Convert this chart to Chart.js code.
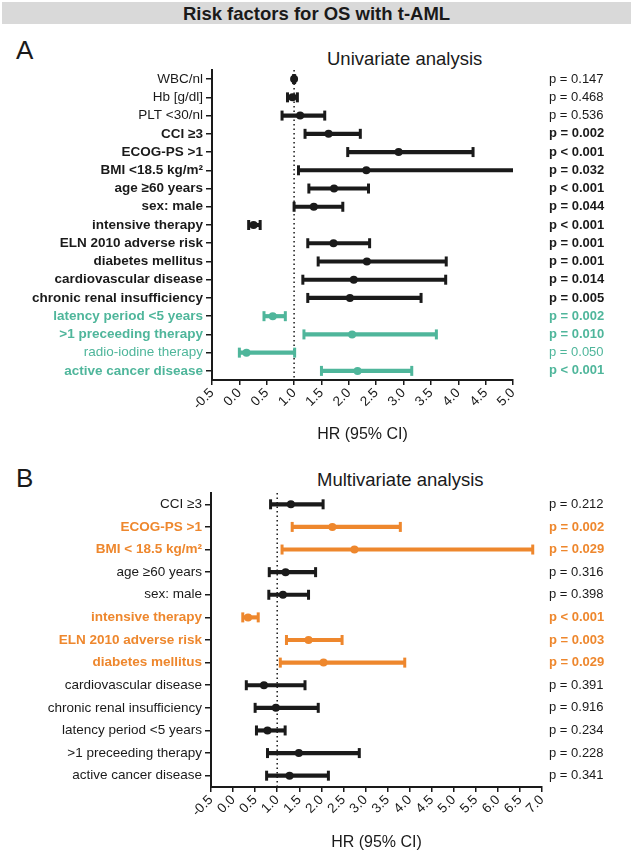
<!DOCTYPE html>
<html lang="en">
<head>
<meta charset="UTF-8">
<title>Risk factors for OS with t-AML</title>
<script src="https://cdn.jsdelivr.net/npm/chart.js"></script>
<style>
    body {
        margin: 0;
        width: 633px;
        height: 854px;
        position: relative;
        overflow: hidden;
        background: #fff;
        color: #1a1a1a;
        font-family: "Liberation Sans", Arial, sans-serif;
    }
    .banner {
        position: absolute;
        left: 2px; top: 2px;
        width: 629px; height: 22px;
        background: #d9d9d9;
        font-weight: bold;
        font-size: 18.5px;
        line-height: 24px;
        text-align: center;
    }
    .letter { position: absolute; left: 16px; font-size: 26px; line-height: 26px; }
    .subtitle { position: absolute; font-size: 18.5px; line-height: 18.5px; white-space: nowrap; }
    .box { position: absolute; left: 0; width: 633px; }
</style>
</head>
<body>
    <div class="banner">Risk factors for OS with t-AML</div>

    <div class="letter" style="top:37px">A</div>
    <div class="subtitle" style="left:327px; top:50px">Univariate analysis</div>
    <div class="box" style="top:62px; height:388px"><canvas id="uniChart"></canvas></div>

    <div class="letter" style="top:465px">B</div>
    <div class="subtitle" style="left:317px; top:471px">Multivariate analysis</div>
    <div class="box" style="top:485px; height:369px"><canvas id="multiChart"></canvas></div>

<script>
    // Univariate analysis
    const labelsA = ['WBC/nl', 'Hb [g/dl]', 'PLT <30/nl', 'CCI ≥3', 'ECOG-PS >1', 'BMI <18.5 kg/m²',
        'age ≥60 years', 'sex: male', 'intensive therapy', 'ELN 2010 adverse risk', 'diabetes mellitus',
        'cardiovascular disease', 'chronic renal insufficiency', 'latency period <5 years',
        '>1 preceeding therapy', 'radio-iodine therapy', 'active cancer disease'];
    const hrA    = [1.00, 0.97, 1.11, 1.63, 2.91, 2.32, 1.73, 1.36, 0.26, 1.72, 2.33, 2.09, 2.02, 0.61, 2.06, 0.13, 2.16];
    const lowerA = [0.99, 0.88, 0.78, 1.20, 1.98, 1.08, 1.27, 1.00, 0.17, 1.25, 1.44, 1.16, 1.25, 0.45, 1.18, 0.00, 1.50];
    const upperA = [1.01, 1.06, 1.56, 2.21, 4.27, 5.38, 2.36, 1.89, 0.38, 2.38, 3.78, 3.77, 3.32, 0.84, 3.60, 1.01, 3.15];
    const pA = ['p = 0.147', 'p = 0.468', 'p = 0.536', 'p = 0.002', 'p < 0.001', 'p = 0.032', 'p < 0.001',
        'p = 0.044', 'p < 0.001', 'p = 0.001', 'p = 0.001', 'p = 0.014', 'p = 0.005', 'p = 0.002',
        'p = 0.010', 'p = 0.050', 'p < 0.001'];
    // factors related to the prior malignancy / its treatment (shown in teal)
    const priorFactorsA = ['latency period <5 years', '>1 preceeding therapy', 'radio-iodine therapy', 'active cancer disease'];

    // Multivariate analysis
    const labelsB = ['CCI ≥3', 'ECOG-PS >1', 'BMI < 18.5 kg/m²', 'age ≥60 years', 'sex: male',
        'intensive therapy', 'ELN 2010 adverse risk', 'diabetes mellitus', 'cardiovascular disease',
        'chronic renal insufficiency', 'latency period <5 years', '>1 preceeding therapy', 'active cancer disease'];
    const hrB    = [1.31, 2.25, 2.75, 1.19, 1.13, 0.34, 1.71, 2.05, 0.70, 0.97, 0.78, 1.49, 1.28];
    const lowerB = [0.85, 1.34, 1.11, 0.82, 0.81, 0.22, 1.21, 1.07, 0.30, 0.50, 0.53, 0.78, 0.76];
    const upperB = [2.04, 3.79, 6.79, 1.87, 1.71, 0.57, 2.47, 3.89, 1.63, 1.93, 1.18, 2.86, 2.16];
    const pB = ['p = 0.212', 'p = 0.002', 'p = 0.029', 'p = 0.316', 'p = 0.398', 'p < 0.001', 'p = 0.003',
        'p = 0.029', 'p = 0.391', 'p = 0.916', 'p = 0.234', 'p = 0.228', 'p = 0.341'];

    const BLACK = '#1a1a1a';
    const TEAL = '#4fb69b';
    const ORANGE = '#ee872d';

    Chart.defaults.font.family = '"Liberation Sans", Arial, sans-serif';
    Chart.defaults.color = BLACK;

    function isSignificant(p) {
        if (p.indexOf('<') >= 0) return true;
        return parseFloat(p.split('=')[1]) < 0.05;
    }

    // dotted line at HR = 1
    const refLine = {
        id: 'refLine',
        beforeDatasetsDraw(chart) {
            const {ctx, chartArea, scales} = chart;
            const x = scales.x.getPixelForValue(1);
            ctx.save();
            ctx.setLineDash([1.5, 3]);
            ctx.lineWidth = 1.5;
            ctx.strokeStyle = BLACK;
            ctx.beginPath();
            ctx.moveTo(x, chartArea.top);
            ctx.lineTo(x, chartArea.bottom);
            ctx.stroke();
            ctx.restore();
        }
    };

    // fixed axis width, and no extra top/bottom padding from tick labels
    function fixWidth(w) {
        return s => {
            s.width = w;
            s.paddingTop = 0;
            s.paddingBottom = 0;
        };
    }

    function forestPlot(id, labels, hr, lower, upper, pvals, colors, xMax, lay) {
        const bold = pvals.map(isSignificant);
        const capSet = (data) => ({
            type: 'line', indexAxis: 'y', data: data, showLine: false, order: 2,
            pointStyle: 'line', pointRotation: 90, pointRadius: 5, pointBorderWidth: 3,
            pointBorderColor: colors, pointBackgroundColor: colors
        });
        return new Chart(document.getElementById(id), {
            type: 'bar',
            data: {
                labels: labels,
                datasets: [
                    {
                        type: 'bar', data: lower.map((lo, i) => [lo, upper[i]]), order: 3,
                        backgroundColor: colors, borderWidth: 0, barThickness: 3.5
                    },
                    capSet(lower),
                    capSet(upper),
                    {
                        type: 'line', indexAxis: 'y', data: hr, showLine: false, order: 1,
                        pointStyle: 'circle', pointRadius: 4, pointBorderWidth: 0,
                        pointBackgroundColor: colors, pointBorderColor: colors
                    }
                ]
            },
            options: {
                indexAxis: 'y',
                responsive: true,
                maintainAspectRatio: false,
                animation: false,
                layout: { padding: { top: lay.top, left: 0, right: 0, bottom: 0 } },
                plugins: { legend: { display: false }, tooltip: { enabled: false } },
                scales: {
                    x: {
                        type: 'linear', min: -0.5, max: xMax,
                        ticks: {
                            stepSize: 0.5, autoSkip: false, minRotation: 45, maxRotation: 45,
                            font: { size: 13.5 }, color: BLACK, padding: 0,
                            callback: v => v.toFixed(1)
                        },
                        grid: { drawOnChartArea: false, color: BLACK, lineWidth: 1.5, tickLength: 5 },
                        border: { color: BLACK, width: 2 },
                        title: {
                            display: true, text: 'HR (95% CI)', color: BLACK,
                            font: { size: 16 }, padding: { top: 0, bottom: lay.titlePad }
                        },
                        afterFit: s => { s.height = lay.xHeight; }
                    },
                    y: {
                        type: 'category', offset: true,
                        grid: { offset: false, drawOnChartArea: false, color: BLACK, lineWidth: 1.5, tickLength: 6 },
                        border: { color: BLACK, width: 2 },
                        ticks: {
                            autoSkip: false, padding: 3,
                            color: c => colors[c.index],
                            font: c => ({ size: 13.5, weight: bold[c.index] ? 'bold' : 'normal' })
                        },
                        afterFit: fixWidth(lay.yWidth)
                    },
                    y2: {
                        type: 'category', position: 'right', labels: pvals, offset: true,
                        grid: { display: false, drawTicks: false },
                        border: { display: false },
                        ticks: {
                            autoSkip: false, padding: lay.pPad,
                            color: c => colors[c.index],
                            font: c => ({ size: 13, weight: bold[c.index] ? 'bold' : 'normal' })
                        },
                        afterFit: fixWidth(lay.pWidth)
                    }
                }
            },
            plugins: [refLine]
        });
    }

    const colorsA = labelsA.map(l => priorFactorsA.includes(l) ? TEAL : BLACK);
    const colorsB = pB.map(p => isSignificant(p) ? ORANGE : BLACK);

    forestPlot('uniChart', labelsA, hrA, lowerA, upperA, pA, colorsA, 5.0,
        { top: 5, xHeight: 70, yWidth: 212, pWidth: 120, pPad: 36, titlePad: 6 });
    forestPlot('multiChart', labelsB, hrB, lowerB, upperB, pB, colorsB, 7.0,
        { top: 6, xHeight: 67, yWidth: 211, pWidth: 91, pPad: 7, titlePad: 2 });
</script>
</body>
</html>
